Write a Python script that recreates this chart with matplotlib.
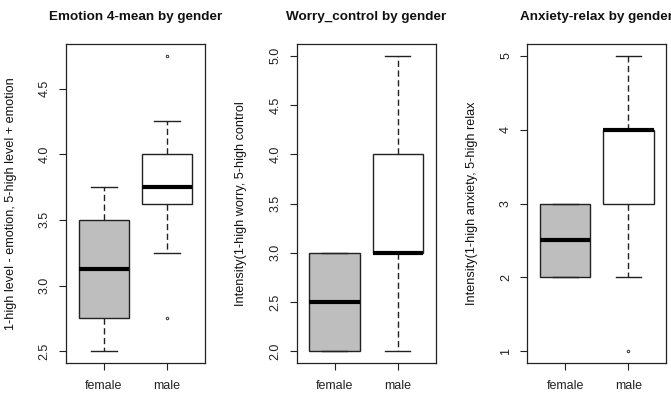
import matplotlib
matplotlib.use('Agg')
import matplotlib.pyplot as plt

# --- config ---
plt.rcParams['font.family'] = ['Liberation Sans', 'DejaVu Sans']

groups = ['female', 'male']
box_fill = ['#bebebe', 'white']

# five-number summaries: (whislo, q1, med, q3, whishi), outliers
emotion_stats = [(2.5, 2.75, 3.125, 3.5, 3.75), (3.25, 3.625, 3.75, 4.0, 4.25)]
emotion_fliers = [[], [2.75, 4.75]]
emotion_ticks = [2.5, 3.0, 3.5, 4.0, 4.5]

worry_stats = [(2.0, 2.0, 2.5, 3.0, 3.0), (2.0, 3.0, 3.0, 4.0, 5.0)]
worry_fliers = [[], []]
worry_ticks = [2.0, 2.5, 3.0, 3.5, 4.0, 4.5, 5.0]

anxiety_stats = [(2.0, 2.0, 2.5, 3.0, 3.0), (2.0, 3.0, 4.0, 4.0, 5.0)]
anxiety_fliers = [[], [1.0]]
anxiety_ticks = [1, 2, 3, 4, 5]

panels = [
    ('Emotion 4-mean by gender', '1-high level - emotion, 5-high level + emotion',
     emotion_stats, emotion_fliers, emotion_ticks, ['2.5', '3.0', '3.5', '4.0', '4.5']),
    ('Worry_control by gender', 'Intensity(1-high worry, 5-high control',
     worry_stats, worry_fliers, worry_ticks, [f'{t:.1f}' for t in worry_ticks]),
    ('Anxiety-relax by gender', 'Intensity(1-high anxiety, 5-high relax',
     anxiety_stats, anxiety_fliers, anxiety_ticks, [str(t) for t in anxiety_ticks]),
]

# axes placement in figure fractions (R's par layout, measured)
lefts = [66 / 671, 296.7 / 671, 527.3 / 671]
width = 139 / 671
bottom = 1 - 363 / 396
height = 319 / 396


def draw_panel(ax, title, ylabel, stats, fliers, ticks, ticklabels):
    bxp_stats = []
    for name, (lo, q1, med, q3, hi), fl in zip(groups, stats, fliers):
        bxp_stats.append(dict(label=name, whislo=lo, q1=q1, med=med, q3=q3,
                              whishi=hi, fliers=fl))
    art = ax.bxp(bxp_stats, positions=[1, 2], widths=0.8, capwidths=0.4,
                 patch_artist=True, showfliers=True,
                 boxprops=dict(edgecolor='#222222', linewidth=1.0),
                 whiskerprops=dict(color='#222222', linewidth=1.0, linestyle=(0, (4.5, 2.5))),
                 capprops=dict(color='#222222', linewidth=1.0),
                 medianprops=dict(color='black', linewidth=3.0, solid_capstyle='butt'),
                 flierprops=dict(marker='o', markersize=1.8, markerfacecolor='none',
                                 markeredgecolor='#333333', markeredgewidth=0.7))
    for patch, c in zip(art['boxes'], box_fill):
        patch.set_facecolor(c)

    lo = min(min(s[0] for s in stats), min([min(f) for f in fliers if f], default=99))
    hi = max(max(s[4] for s in stats), max([max(f) for f in fliers if f], default=-99))
    ext = (hi - lo) * 0.04
    ax.set_ylim(lo - ext, hi + ext)
    ax.set_xlim(0.4, 2.6)

    ax.set_yticks(ticks)
    ax.set_yticklabels(ticklabels)
    ax.set_xticks([1, 2])
    ax.set_xticklabels(groups)
    ax.tick_params(axis='both', direction='out', length=5, width=0.8,
                   labelsize=9, colors='#222222')
    ax.tick_params(axis='y', labelrotation=90, pad=6)
    ax.tick_params(axis='x', pad=7.5)
    for lbl in ax.get_yticklabels():
        lbl.set_va('center')
    for sp in ax.spines.values():
        sp.set_linewidth(0.9)
        sp.set_color('#222222')

    ax.set_title(title, fontsize=9.7, fontweight='bold', pad=17, color='#111111')
    ax.set_ylabel(ylabel, fontsize=9.1, color='#111111')
    ax.yaxis.set_label_coords(-0.356, 0.5)


fig = plt.figure(figsize=(6.71, 3.96), dpi=100)
for left, (title, ylabel, stats, fliers, ticks, tlabels) in zip(lefts, panels):
    ax = fig.add_axes([left, bottom, width, height])
    draw_panel(ax, title, ylabel, stats, fliers, ticks, tlabels)

fig.savefig('out.png', dpi=100)
